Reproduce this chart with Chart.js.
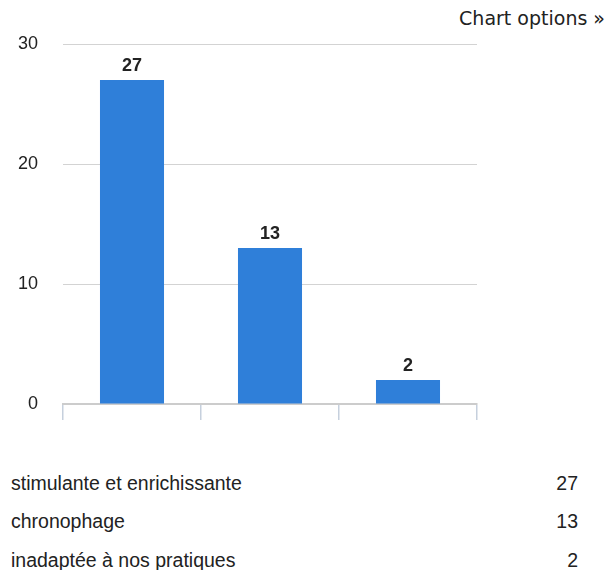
<!DOCTYPE html>
<html>
<head>
<meta charset="utf-8">
<script src="https://cdn.jsdelivr.net/npm/chart.js@4/dist/chart.umd.min.js"></script>
<style>
  body { margin: 0; background: #fff; width: 612px; height: 570px; overflow: hidden; position: relative; }
  #wrap { position: absolute; left: 0; top: 0; width: 612px; height: 440px; }
  #opts { position: absolute; right: 7px; top: 9px; font: 19px/19px "DejaVu Sans", sans-serif; color: #222; white-space: nowrap; }
  table { position: absolute; left: 0; top: 464px; width: 588px; border-collapse: collapse; font: 19.5px "Liberation Sans", Arial, sans-serif; color: #222; }
  td { height: 38.5px; padding: 0 0 0 11px; vertical-align: middle; }
  td.num { text-align: right; padding-right: 10px; }
</style>
</head>
<body>
<div id="opts">Chart options »</div>
<div id="wrap"><canvas id="chart"></canvas></div>
<table id="tbl"></table>
<script>
const categories = ["stimulante et enrichissante", "chronophage", "inadaptée à nos pratiques"];
const counts = [27, 13, 2];
const yTicks = [0, 10, 20, 30];

// value labels above bars
const barLabels = {
  id: "barLabels",
  afterDatasetsDraw(chart) {
    const ctx = chart.ctx;
    const meta = chart.getDatasetMeta(0);
    ctx.save();
    ctx.font = "bold 18px 'Liberation Sans', Arial, sans-serif";
    ctx.fillStyle = "#222";
    ctx.textAlign = "center";
    ctx.textBaseline = "alphabetic";
    meta.data.forEach((bar, i) => {
      ctx.fillText(String(counts[i]), bar.x, bar.y - 9);
    });
    ctx.restore();
  }
};

new Chart(document.getElementById("chart"), {
  type: "bar",
  data: {
    labels: categories,
    datasets: [{
      data: counts,
      backgroundColor: "#2f7fd9",
      categoryPercentage: 1,
      barPercentage: 0.464
    }]
  },
  options: {
    responsive: true,
    maintainAspectRatio: false,
    animation: false,
    layout: { padding: { top: 44, right: 135, left: 0, bottom: 0 } },
    plugins: { legend: { display: false }, tooltip: { enabled: false } },
    scales: {
      x: {
        ticks: { display: false },
        grid: { offset: true, drawOnChartArea: false, drawTicks: true, tickLength: 16, color: "#c6d0dd", lineWidth: 1.5 },
        border: { color: "#cccccc", width: 2 },
        afterFit(s) { s.height = 36; }
      },
      y: {
        min: 0,
        max: 30,
        afterBuildTicks(s) { s.ticks = yTicks.map(v => ({ value: v })); },
        ticks: {
          padding: 25,
          crossAlign: "near",
          color: "#222",
          font: { family: "'Liberation Sans', Arial, sans-serif", size: 18 }
        },
        grid: { drawTicks: false, color: "#d3d3d3", lineWidth: 1 },
        border: { display: false },
        afterFit(s) { s.width = 63; }
      }
    }
  },
  plugins: [barLabels]
});

const tbl = document.getElementById("tbl");
categories.forEach((c, i) => {
  const tr = document.createElement("tr");
  const a = document.createElement("td");
  a.textContent = c;
  const b = document.createElement("td");
  b.className = "num";
  b.textContent = counts[i];
  tr.appendChild(a);
  tr.appendChild(b);
  tbl.appendChild(tr);
});
</script>
</body>
</html>
